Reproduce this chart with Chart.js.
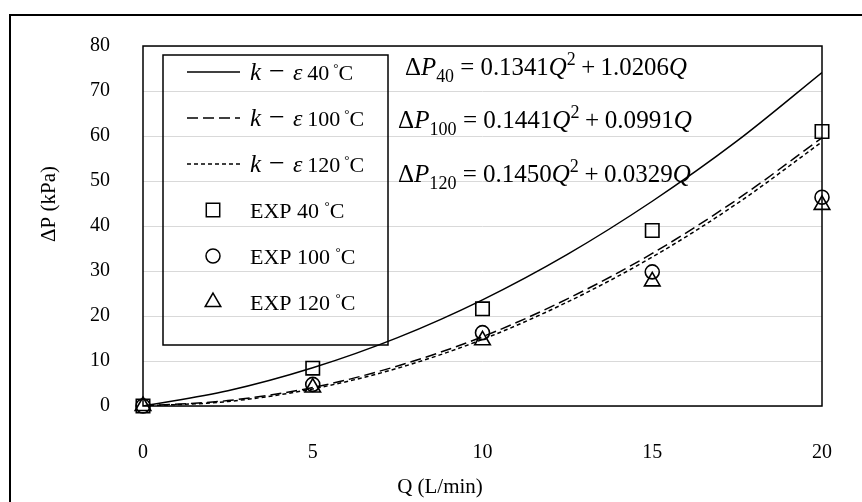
<!DOCTYPE html>
<html>
<head>
<meta charset="utf-8">
<script src="https://cdn.jsdelivr.net/npm/chart.js@4.4.0/dist/chart.umd.min.js"></script>
<style>
html, body { margin: 0; padding: 0; background: #fff; }
</style>
</head>
<body>
<canvas id="myChart" width="862" height="502"></canvas>
<script>
// fitted k-epsilon curves
const qFit = [0, 2.5, 5, 7.5, 10, 12.5, 15, 17.5, 20];
const fit40 = [0, 3.4, 8.5, 15.2, 23.6, 33.7, 45.5, 58.9, 74.1];
const fit100 = [0, 1.2, 4.1, 8.9, 15.4, 23.8, 33.9, 45.9, 59.6];
const fit120 = [0, 1.0, 3.8, 8.4, 14.8, 23.1, 33.1, 45.0, 58.7];

// experiment points
const qExp = [0, 5, 10, 15, 20];
const exp40 = [0, 8.4, 21.6, 39.0, 61.0];
const exp100 = [0, 4.8, 16.3, 29.8, 46.4];
const exp120 = [0, 4.1, 14.6, 27.7, 44.7];

const xTicks = [0, 5, 10, 15, 20];
const yTicks = [0, 10, 20, 30, 40, 50, 60, 70, 80];

const temps = ["40", "100", "120"];
const eqA = ["0.1341", "0.1441", "0.1450"];
const eqB = ["1.0206", "0.0991", "0.0329"];

const serif = '"Liberation Serif", "Times New Roman", serif';

function pts(xs, ys) {
    return xs.map((x, i) => ({ x: x, y: ys[i] }));
}

function drawRuns(ctx, x, y, list) {
    list.forEach((r) => {
        ctx.font = r.f;
        ctx.fillText(r.t, x, y + (r.dy || 0));
        x += ctx.measureText(r.t).width + (r.gap || 0);
    });
    return x;
}

function runsWidth(ctx, list) {
    let w = 0;
    list.forEach((r) => { ctx.font = r.f; w += ctx.measureText(r.t).width + (r.gap || 0); });
    return w;
}

function eqRuns(s, t, a, b) {
    return [
        { t: "Δ", f: s + "px " + serif },
        { t: "P", f: "italic " + s + "px " + serif },
        { t: t, f: (s * 0.72) + "px " + serif, dy: s * 0.28, gap: s * 0.25 },
        { t: "=", f: s + "px " + serif, gap: s * 0.25 },
        { t: a, f: s + "px " + serif },
        { t: "Q", f: "italic " + s + "px " + serif },
        { t: "2", f: (s * 0.72) + "px " + serif, dy: -s * 0.4, gap: s * 0.22 },
        { t: "+", f: s + "px " + serif, gap: s * 0.22 },
        { t: b, f: s + "px " + serif },
        { t: "Q", f: "italic " + s + "px " + serif }
    ];
}

function keRuns(t) {
    return [
        { t: "k", f: "italic 25px " + serif, gap: 8 },
        { t: "−", f: "28px " + serif, gap: 8 },
        { t: "ε", f: "italic 24px " + serif, gap: 5 },
        { t: t, f: "22px " + serif, gap: 4 },
        { t: "°", f: "13px " + serif, dy: -8 },
        { t: "C", f: "22px " + serif }
    ];
}

function expRuns(t) {
    return [
        { t: "EXP " + t + " ", f: "22px " + serif },
        { t: "°", f: "13px " + serif, dy: -8 },
        { t: "C", f: "22px " + serif }
    ];
}

const decor = {
    id: "decor",
    afterDraw(chart) {
        const ctx = chart.ctx;
        const a = chart.chartArea;
        ctx.save();
        ctx.fillStyle = "#000";
        ctx.strokeStyle = "#000";
        ctx.textBaseline = "alphabetic";
        ctx.textAlign = "left";

        // outer frame
        ctx.lineWidth = 2;
        ctx.beginPath();
        ctx.moveTo(10, 502);
        ctx.lineTo(10, 15);
        ctx.lineTo(862, 15);
        ctx.stroke();

        // plot box
        ctx.lineWidth = 1.5;
        ctx.strokeRect(a.left, a.top, a.right - a.left, a.bottom - a.top);

        // legend box
        ctx.strokeRect(163, 55, 225, 290);

        let rows = [80, 126, 172, 218, 264, 310];
        for (let i = 0; i < 3; i++) {
            let ds = chart.data.datasets[i];
            ctx.setLineDash(ds.borderDash || []);
            ctx.lineWidth = 1.5;
            ctx.beginPath();
            ctx.moveTo(187, rows[i] - 8);
            ctx.lineTo(240, rows[i] - 8);
            ctx.stroke();
            ctx.setLineDash([]);
            drawRuns(ctx, 250, rows[i], keRuns(temps[i]));
        }
        for (let i = 0; i < 3; i++) {
            let ds = chart.data.datasets[i + 3];
            ctx.lineWidth = 1.5;
            ctx.fillStyle = "rgba(0,0,0,0)";
            Chart.helpers.drawPoint(ctx, {
                pointStyle: ds.pointStyle, radius: ds.pointRadius, borderWidth: 1.5, rotation: 0
            }, 213, rows[i + 3] - 8);
            ctx.fillStyle = "#000";
            drawRuns(ctx, 250, rows[i + 3], expRuns(temps[i]));
        }

        // fit equations
        let eqX = [405, 398, 398];
        let eqY = [75, 128, 182];
        let eqW = [282, 294, 293];
        for (let i = 0; i < 3; i++) {
            let w = runsWidth(ctx, eqRuns(20, temps[i], eqA[i], eqB[i]));
            let s = 20 * eqW[i] / w;
            drawRuns(ctx, eqX[i], eqY[i], eqRuns(s, temps[i], eqA[i], eqB[i]));
        }

        // axis titles
        ctx.font = "21px " + serif;
        ctx.textAlign = "center";
        ctx.textBaseline = "middle";
        ctx.fillText("Q (L/min)", 440, 487);
        ctx.translate(49, 204);
        ctx.rotate(-Math.PI / 2);
        ctx.fillText("ΔP (kPa)", 0, 0);
        ctx.restore();
    }
};

let lineBase = {
    showLine: true, borderColor: "#000", borderWidth: 1.5, pointRadius: 0,
    fill: false, cubicInterpolationMode: "monotone"
};
let markBase = {
    showLine: false, clip: false, borderColor: "#000", backgroundColor: "rgba(0,0,0,0)",
    pointBorderWidth: 1.6, pointBorderColor: "#000", pointBackgroundColor: "rgba(0,0,0,0)"
};

const ctx = document.getElementById("myChart").getContext("2d");
let myChart = new Chart(ctx, {
    type: "scatter",
    data: {
        datasets: [
            Object.assign({ label: "k − ε 40 °C", data: pts(qFit, fit40) }, lineBase),
            Object.assign({ label: "k − ε 100 °C", data: pts(qFit, fit100), borderDash: [11, 5] }, lineBase),
            Object.assign({ label: "k − ε 120 °C", data: pts(qFit, fit120), borderDash: [4, 3] }, lineBase),
            Object.assign({ label: "EXP 40 °C", data: pts(qExp, exp40), pointStyle: "rect", pointRadius: 9.5 }, markBase),
            Object.assign({ label: "EXP 100 °C", data: pts(qExp, exp100), pointStyle: "circle", pointRadius: 7 }, markBase),
            Object.assign({ label: "EXP 120 °C", data: pts(qExp, exp120), pointStyle: "triangle", pointRadius: 9 }, markBase)
        ]
    },
    options: {
        responsive: false,
        animation: false,
        layout: { padding: { top: 46, right: 40, left: 0, bottom: 0 } },
        plugins: { legend: { display: false }, tooltip: { enabled: false } },
        scales: {
            x: {
                type: "linear", min: 0, max: 20,
                afterFit: (scale) => { scale.height = 96; scale.paddingLeft = 0; scale.paddingRight = 0; },
                afterBuildTicks: (scale) => { scale.ticks = xTicks.map((v) => ({ value: v })); },
                grid: { display: false, drawTicks: false },
                border: { display: false },
                ticks: { color: "#000", padding: 35, font: { family: serif, size: 20 } }
            },
            y: {
                min: 0, max: 80,
                afterFit: (scale) => { scale.width = 143; scale.paddingTop = 0; scale.paddingBottom = 0; },
                afterBuildTicks: (scale) => { scale.ticks = yTicks.map((v) => ({ value: v })); },
                grid: { color: "#d9d9d9", lineWidth: 1, drawTicks: false },
                border: { display: false },
                ticks: { color: "#000", padding: 33, font: { family: serif, size: 20 } }
            }
        }
    },
    plugins: [decor]
});
</script>
</body>
</html>
